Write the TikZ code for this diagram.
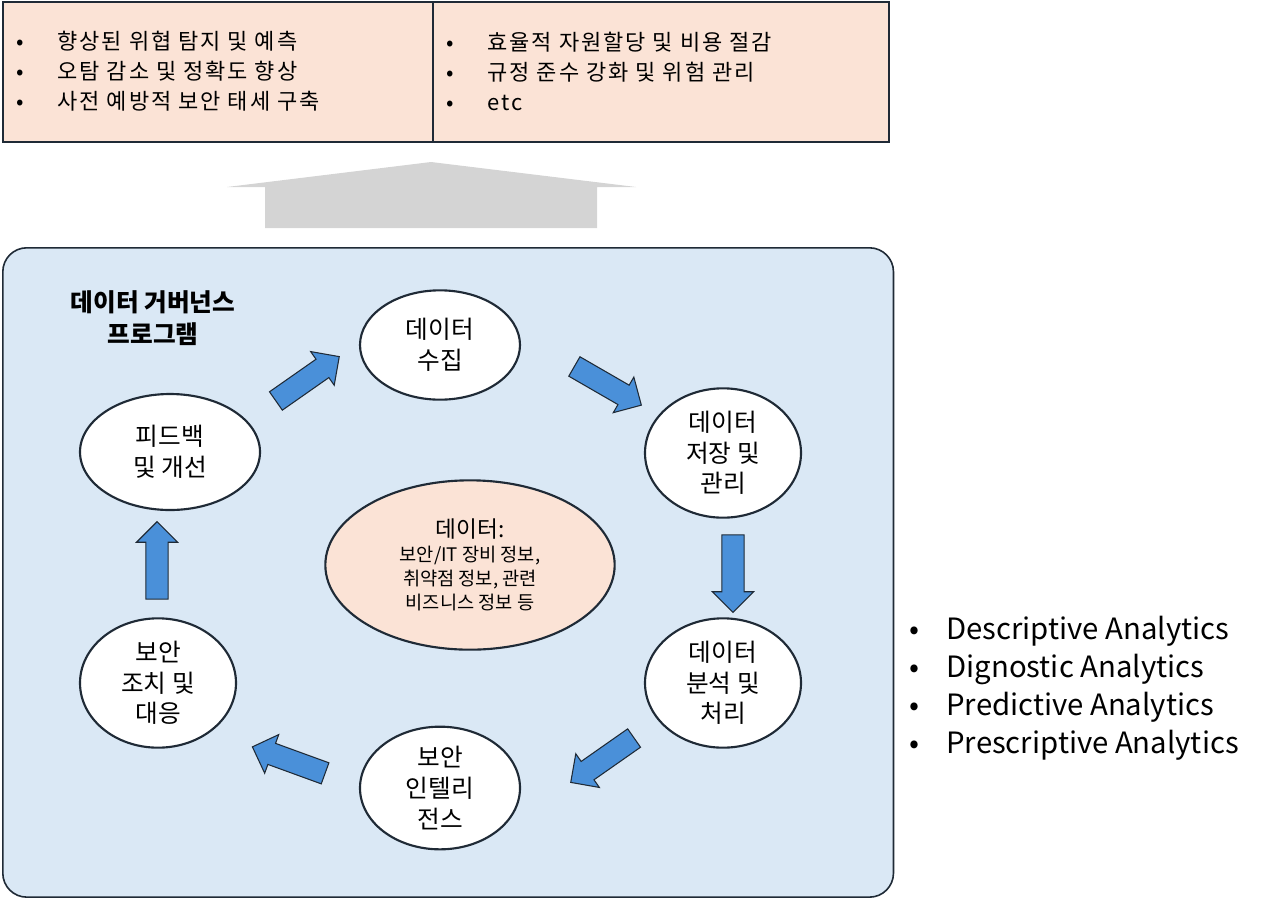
\documentclass[tikz,border=0pt]{standalone}
\usepackage{fontspec}
\setmainfont{Noto Sans CJK KR}
\newfontfamily\widefont[LetterSpace=9]{Noto Sans CJK KR}
\usetikzlibrary{shapes.arrows,shapes.geometric}
\definecolor{peach}{HTML}{FBE3D6}
\definecolor{lblue}{HTML}{DAE8F5}
\definecolor{bblue}{HTML}{4A90D9}
\definecolor{edge}{HTML}{1F2A36}
\tikzset{
 ell/.style={ellipse,draw=edge,line width=1.6pt,fill=white,align=center,inner sep=0pt,font=\fontsize{18.5}{23}\selectfont},
 flow/.style={single arrow,draw=edge,line width=0.8pt,fill=bblue,inner xsep=0pt,inner ysep=8pt,single arrow head extend=7pt,single arrow head indent=0pt,minimum height=58pt},
 bul/.style={anchor=west,align=left,font=\fontsize{16.5}{22.5}\selectfont}
}
\begin{document}
\begin{tikzpicture}[x=0.75pt,y=-0.75pt]
\useasboundingbox (0,0) rectangle (1280,900);
% top boxes
\node[draw=edge,line width=1.2pt,fill=peach,minimum width=323pt,minimum height=105pt,inner sep=0pt,anchor=north west] (tl) at (2,1) {};
\node[draw=edge,line width=1.2pt,fill=peach,minimum width=342pt,minimum height=105pt,inner sep=0pt,anchor=north west] (tr) at (432,1) {};
\node[bul,font=\widefont\fontsize{16.5}{22.5}\selectfont] (tlt) at (12,71) {•\hspace{25pt}향상된 위협 탐지 및 예측\\•\hspace{25pt}오탐 감소 및 정확도 향상\\•\hspace{25pt}사전 예방적 보안 태세 구축};
\node[bul,font=\widefont\fontsize{16.5}{22.5}\selectfont] (trt) at (442,71) {•\hspace{25pt}효율적 자원할당 및 비용 절감\\•\hspace{25pt}규정 준수 강화 및 위험 관리\\•\hspace{25pt}etc};
% gray arrow
\fill[black!17] (265,228) -- (265,187) -- (227,187) -- (431,162) -- (636,187) -- (597,187) -- (597,228) -- cycle;
% main box
\node[draw=edge,line width=1.2pt,fill=lblue,rounded corners=18pt,minimum width=668pt,minimum height=487pt,inner sep=0pt,anchor=north west] (main) at (2,247) {};
\node[align=center,font=\bfseries\fontsize{18.5}{24}\selectfont] (title) at (153,318) {데이터 거버넌스\\프로그램};
% ellipses
\node[ell,minimum width=120pt,minimum height=82pt] (e1) at (440,345) {데이터\\수집};
\node[ell,minimum width=117pt,minimum height=97pt] (e2) at (723,453) {데이터\\저장 및\\관리};
\node[ell,minimum width=117pt,minimum height=97pt] (e3) at (723,683) {데이터\\분석 및\\처리};
\node[ell,minimum width=120pt,minimum height=92pt] (e4) at (440,788) {보안\\인텔리\\전스};
\node[ell,minimum width=117pt,minimum height=97pt] (e5) at (158,683) {보안\\조치 및\\대응};
\node[ell,minimum width=135pt,minimum height=87pt] (e6) at (170,452) {피드백\\및 개선};
\node[ellipse,draw=edge,line width=1.6pt,fill=peach,minimum width=217pt,minimum height=127pt,inner sep=0pt,align=center,font=\fontsize{14}{18}\selectfont] (c) at (470,565) {{\fontsize{17}{21}\selectfont 데이터:}\\보안/IT 장비 정보,\\취약점 정보, 관련\\비즈니스 정보 등};
% flow arrows
\node[flow,rotate=35] (a1) at (303,382) {};
\node[flow,rotate=-30] (a2) at (603,383) {};
\node[flow,rotate=-90] (a3) at (733,568) {};
\node[flow,rotate=-145] (a4) at (607,757) {};
\node[flow,rotate=160] (a5) at (294,762) {};
\node[flow,rotate=90] (a6) at (157,566) {};
% right list
\node[bul,font=\fontsize{22}{28.5}\selectfont] (rl) at (905,688) {•\hspace{20pt}Descriptive Analytics\\•\hspace{20pt}Dignostic Analytics\\•\hspace{20pt}Predictive Analytics\\•\hspace{20pt}Prescriptive Analytics};
\end{tikzpicture}
\end{document}
